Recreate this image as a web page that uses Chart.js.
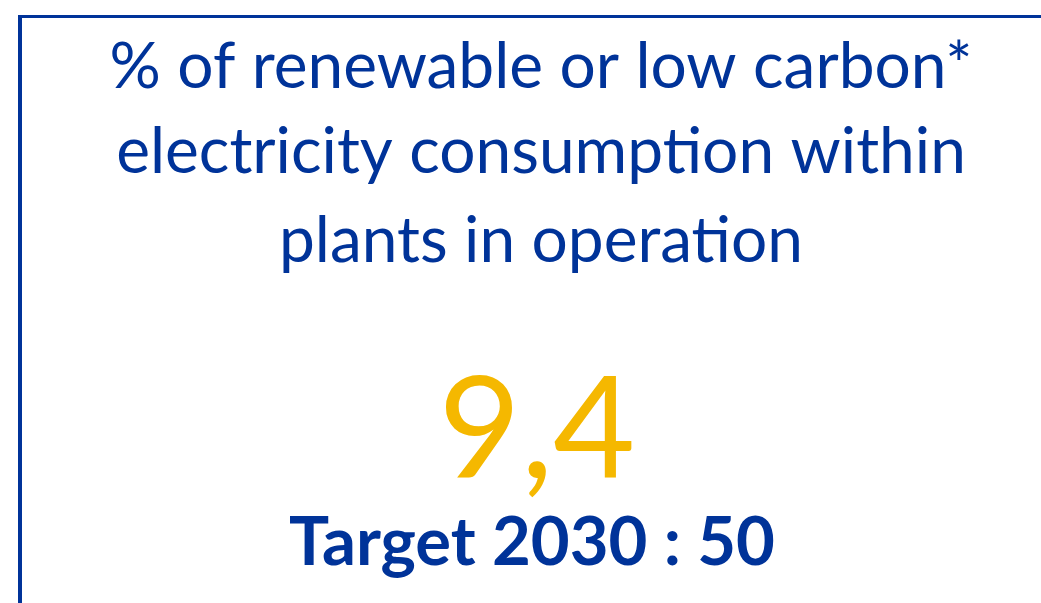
<!DOCTYPE html>
<html>
<head>
<meta charset="utf-8">
<script src="https://cdn.jsdelivr.net/npm/chart.js@4"></script>
<style>
  html, body { margin: 0; padding: 0; background: #fff; }
  #wrap { width: 1041px; height: 603px; position: relative; }
</style>
</head>
<body>
<div id="wrap"><canvas id="kpiChart" width="1041" height="603"></canvas></div>
<script>
// Données de la carte KPI
const titleLines = ['% of renewable or low carbon*', 'electricity consumption within', 'plants in operation'];
const labels = ['Actual', 'Target 2030'];
const values = [9.4, 50];

const BLUE = '#003399';
const YELLOW = '#f5b800';
const FONT = 'Lato, "Open Sans", sans-serif';

// format français : virgule décimale
const fmt = v => String(v).replace('.', ',');

const kpiPlugin = {
  id: 'kpiCard',
  afterDraw(chart) {
    const ctx = chart.ctx;
    const cx = 541;
    ctx.save();

    // cadre bleu
    ctx.fillStyle = BLUE;
    ctx.fillRect(18, 15, 1041 - 18, 3);
    ctx.fillRect(18, 15, 4, 603 - 15);

    ctx.textAlign = 'center';
    ctx.textBaseline = 'alphabetic';

    // titre sur trois lignes
    ctx.fillStyle = BLUE;
    ctx.font = '400 64px ' + FONT;
    const baselines = [88, 173, 262];
    titleLines.forEach((line, i) => ctx.fillText(line, cx, baselines[i]));

    // valeur actuelle
    const ds = chart.data.datasets[0].data;
    ctx.fillStyle = YELLOW;
    ctx.font = '400 142px ' + FONT;
    ctx.fillText(fmt(ds[0]), 537, 478);

    // cible
    ctx.fillStyle = BLUE;
    ctx.font = '700 67px ' + FONT;
    ctx.fillText(chart.data.labels[1] + ' : ' + fmt(ds[1]), 532, 565);

    ctx.restore();
  }
};

new Chart(document.getElementById('kpiChart'), {
  type: 'bar',
  data: {
    labels: labels,
    datasets: [{ data: values, hidden: true }]
  },
  options: {
    responsive: false,
    animation: false,
    events: [],
    scales: { x: { display: false }, y: { display: false } },
    plugins: { legend: { display: false }, tooltip: { enabled: false } }
  },
  plugins: [kpiPlugin]
});
</script>
</body>
</html>
